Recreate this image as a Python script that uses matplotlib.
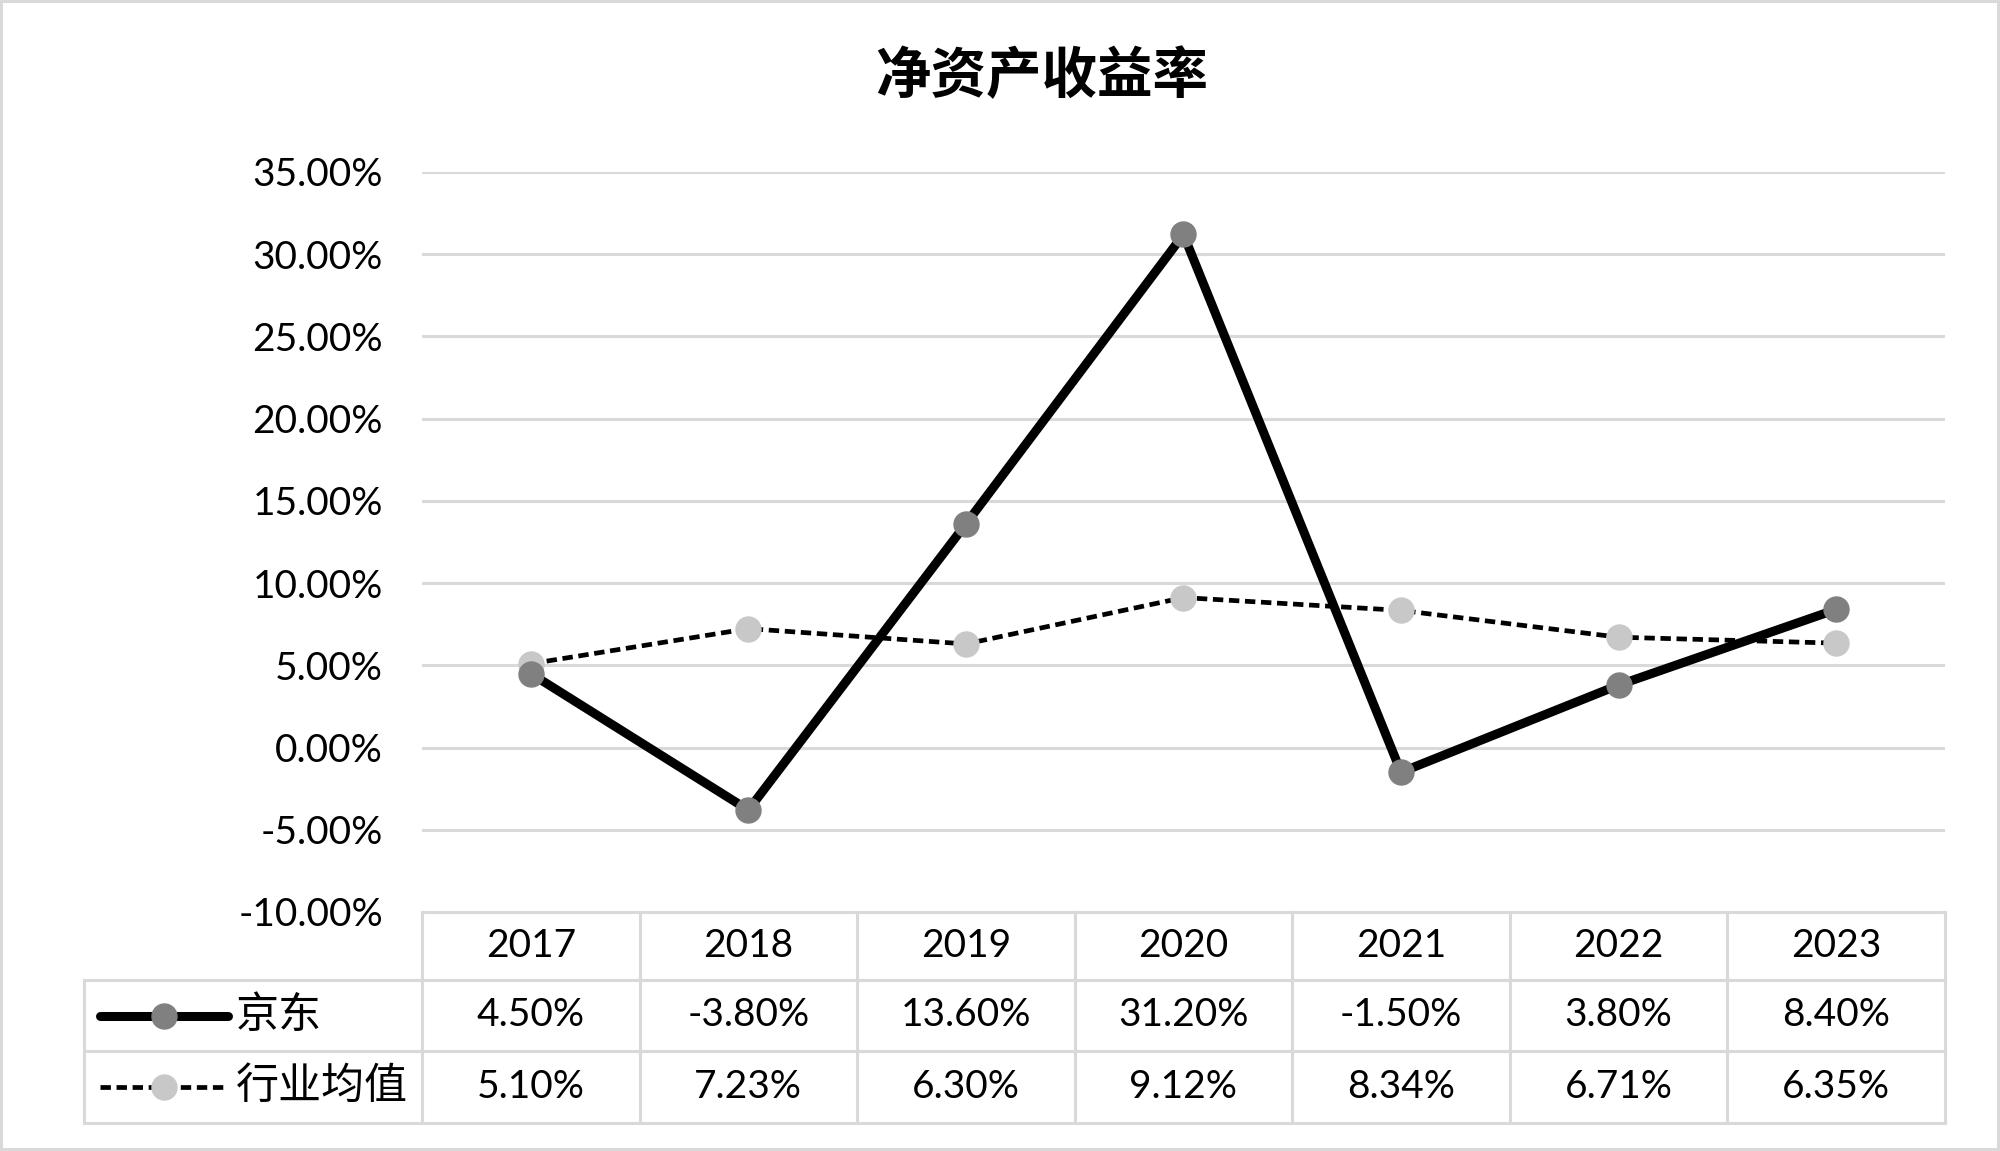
import matplotlib.pyplot as plt
from matplotlib.transforms import blended_transform_factory
from matplotlib.ticker import FuncFormatter

plt.rcParams['font.family'] = ['Lato', 'Noto Sans CJK SC', 'DejaVu Sans']

years = ['2017', '2018', '2019', '2020', '2021', '2022', '2023']
jd = [4.50, -3.80, 13.60, 31.20, -1.50, 3.80, 8.40]
industry = [5.10, 7.23, 6.30, 9.12, 8.34, 6.71, 6.35]
series_names = ['京东', '行业均值']
title = '净资产收益率'

grid_c = '#d9d9d9'
fig = plt.figure(figsize=(20, 11.51), dpi=100)
fig.patch.set_edgecolor(grid_c)
fig.patch.set_linewidth(3)
ax = fig.add_axes([422 / 2000, 1 - 912 / 1151, 1523 / 2000, 740 / 1151])

x = list(range(len(years)))
ax.plot(x, industry, color='black', lw=3.4, ls=(0, (2.2, 1.2)), marker='o',
        ms=18, mfc='#c8c8c8', mec='#c8c8c8', zorder=3)
ax.plot(x, jd, color='black', lw=6.5, marker='o', ms=18,
        mfc='#808080', mec='#808080', zorder=4)

ax.set_xlim(-0.5, len(years) - 0.5)
ax.set_ylim(-10, 35)
ax.set_yticks(range(-10, 36, 5))
ax.yaxis.set_major_formatter(FuncFormatter(lambda v, p: f'{v:.2f}%'))
ax.tick_params(axis='y', length=0, labelsize=28, pad=28)
ax.set_xticks([])
ax.grid(axis='y', color=grid_c, lw=2.2)
ax.set_axisbelow(True)
for s in ax.spines.values():
    s.set_visible(False)

fig.text(0.521, 1 - 77 / 1151, title, ha='center', va='center', fontsize=40,
         fontweight='semibold', family=['Noto Sans CJK SC'])

# data table below the plot
h = 740
rows_y = [0, -68 / h, -139 / h, -211 / h]
left = (84 - 422) / 1523
tr = blended_transform_factory(ax.transData, ax.transAxes)
lk = dict(color=grid_c, lw=2.2, clip_on=False, transform=ax.transAxes)
ax.plot([0, 1], [rows_y[0]] * 2, **lk)
for yy in rows_y[1:]:
    ax.plot([left, 1], [yy] * 2, **lk)
ax.plot([left, left], [rows_y[1], rows_y[3]], **lk)
for i in range(len(years) + 1):
    ax.plot([i - 0.5] * 2, [rows_y[0], rows_y[3]], color=grid_c, lw=2.2,
            clip_on=False, transform=tr)

def mid(a, b):
    return (a + b) / 2

for i, yr in enumerate(years):
    ax.text(i, mid(rows_y[0], rows_y[1]), yr, transform=tr, ha='center',
            va='center', fontsize=28)
    ax.text(i, mid(rows_y[1], rows_y[2]), f'{jd[i]:.2f}%', transform=tr,
            ha='center', va='center', fontsize=28)
    ax.text(i, mid(rows_y[2], rows_y[3]), f'{industry[i]:.2f}%', transform=tr,
            ha='center', va='center', fontsize=28)

# legend keys in the table
kx0 = (100 - 422) / 1523
kx1 = (228 - 422) / 1523
kxm = (kx0 + kx1) / 2
tx = (236 - 422) / 1523
y1 = mid(rows_y[1], rows_y[2])
y2 = mid(rows_y[2], rows_y[3])
ax.plot([kx0, kx1], [y1, y1], color='black', lw=6.5, solid_capstyle='round',
        clip_on=False, transform=ax.transAxes)
ax.plot([kxm], [y1], 'o', ms=18, mfc='#808080', mec='#808080',
        clip_on=False, transform=ax.transAxes)
ax.plot([kx0, kx1], [y2, y2], color='black', lw=3.4, ls=(0, (2.2, 1.2)),
        clip_on=False, transform=ax.transAxes)
ax.plot([kxm], [y2], 'o', ms=18, mfc='#c8c8c8', mec='#c8c8c8',
        clip_on=False, transform=ax.transAxes)
ax.text(tx, y1, series_names[0], transform=ax.transAxes, ha='left',
        va='center', fontsize=31, family=['Noto Sans CJK SC'])
ax.text(tx, y2, series_names[1], transform=ax.transAxes, ha='left',
        va='center', fontsize=31, family=['Noto Sans CJK SC'])

fig.savefig('out.png', dpi=100)
